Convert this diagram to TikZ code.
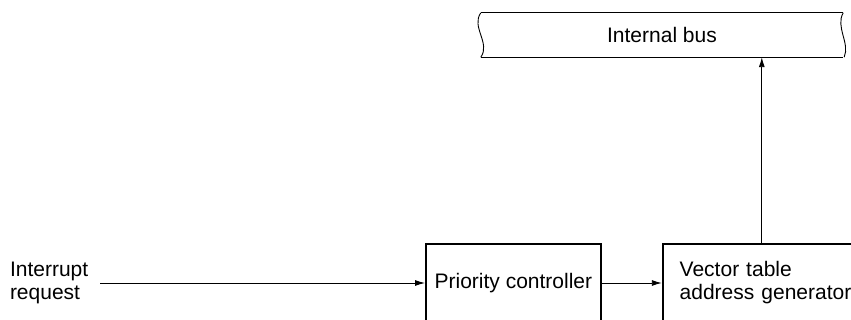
\documentclass[tikz,border=0pt]{standalone}
\usepackage{fontspec}
\setmainfont{Liberation Sans}
\usetikzlibrary{positioning,arrows.meta}

\begin{document}
\begin{tikzpicture}[
    x=1pt, y=-1pt,
    txt/.style={
      inner sep=0pt,
      font=\fontsize{21}{23}\selectfont
    },
    block/.style={
      rectangle,
      draw=black,
      line width=1.8pt,
      minimum height=78pt,
      inner sep=0pt,
      font=\fontsize{21}{23}\selectfont
    },
    bus/.style={
      minimum width=362pt,
      minimum height=44pt,
      inner sep=0pt,
      font=\fontsize{21}{23}\selectfont
    },
    arrow/.style={
      -{Latex[length=10pt, width=6pt]},
      line width=0.9pt,
      draw=black
    }
  ]
    \useasboundingbox (0,0) rectangle (851,320);

    \node[bus] (bus) at (662,35) {Internal bus};
    \node[block, minimum width=175pt, anchor=north west] (prio) at (425,243) {Priority controller};
    \node[block, minimum width=220pt, text width=186pt, inner xsep=17pt, align=left,
          right=60pt of prio.north east, anchor=north west] (vec) {Vector table\\address generator};
    \node[txt, align=left, outer xsep=12pt, anchor=west] (irq) at (-2,283) {Interrupt\\request};

    % bus outline with wavy ends
    \draw[line width=0.9pt] (bus.north west) -- (bus.north east);
    \draw[line width=0.9pt] (bus.south west) -- (bus.south east);
    \draw[line width=0.9pt] (bus.north west) .. controls +(-10,14) and +(10,-14) .. (bus.south west);
    \draw[line width=0.9pt] (bus.north east) .. controls +(-8,14) and +(6,-14) .. ([xshift=1pt]bus.south east);

    \coordinate (vtop) at ([xshift=100pt]vec.north west);

    \draw[arrow] (irq.east) -- (irq.east -| prio.west);
    \draw[arrow] (prio.east |- irq.east) -- (vec.west |- irq.east);
    \draw[arrow] (vtop) -- (vtop |- bus.south);

  \end{tikzpicture}
\end{document}
